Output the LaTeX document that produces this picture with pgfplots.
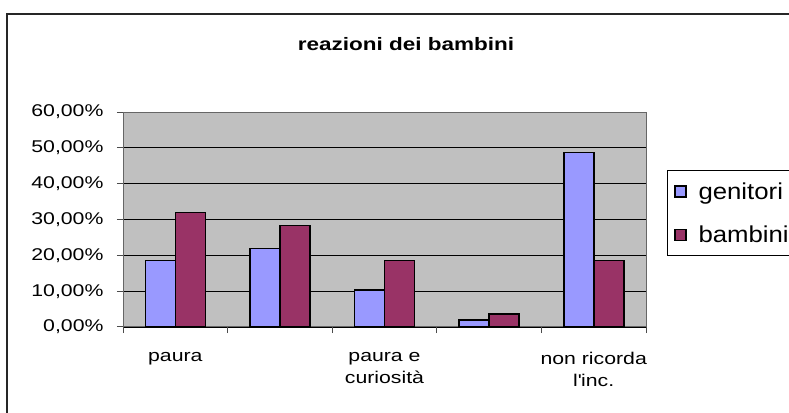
\documentclass[border=0pt]{standalone}
\usepackage{pgfplots}
\pgfplotsset{compat=1.18}
\usepackage{fontspec}
\setmainfont{Liberation Sans}[FakeStretch=1.25]
\newfontfamily\legfont{Liberation Sans}[FakeStretch=1.12]
\definecolor{gen}{HTML}{9999FF}
\definecolor{bam}{HTML}{993366}
\definecolor{plotbg}{HTML}{C0C0C0}
\begin{document}
\begin{tikzpicture}[x=1pt,y=1pt]
\useasboundingbox (0,0) rectangle (789,412);
\draw[line width=1.2pt, black!85] (7,398) rectangle (830,-30);
\node[anchor=base, font=\fontsize{18}{20}\selectfont\bfseries] at (406,361) {reazioni dei bambini};
\begin{axis}[
  at={(123pt,85pt)}, anchor=south west,
  width=523pt, height=215pt, scale only axis,
  ybar=0pt, bar width=30pt,
  xmin=0.5, xmax=5.5, ymin=0, ymax=60,
  axis background/.style={fill=plotbg},
  axis line style={draw=black!60, line width=1pt},
  tick align=outside, tick pos=left,
  major tick length=6pt,
  tick style={black!70, line width=1pt},
  xtick={0.5,1.5,2.5,3.5,4.5,5.5},
  xticklabels={},
  extra x ticks={1,2,3,4,5},
  extra x tick labels={paura,,{paura e\\curiosità},,{non ricorda\\l\textquotesingle inc.}},
  extra x tick style={major tick length=0pt, tick style={draw=none},
    xticklabel style={align=center, font=\fontsize{17}{22}\selectfont, anchor=north, yshift=-22pt}},
  ytick={0,10,20,30,40,50,60},
  yticklabels={{0,00\%},{10,00\%},{20,00\%},{30,00\%},{40,00\%},{50,00\%},{60,00\%}},
  yticklabel style={font=\fontsize{17}{20}\selectfont, anchor=east, xshift=-10pt},
  ymajorgrids, major grid style={black, line width=0.9pt},
  legend style={at={(axis description cs:1.040,0.730)}, anchor=north west,
    draw=black, line width=0.8pt, fill=white,
    font=\legfont\fontsize{23}{26}\selectfont,
    inner xsep=7pt, inner ysep=10pt, row sep=21pt,
    /tikz/every odd column/.append style={column sep=10pt}},
  legend cell align=left,
  legend image code/.code={\draw[#1, line width=1.2pt] (0pt,-5.5pt) rectangle (11pt,5.5pt);},
]
\addplot[fill=gen, draw=black, line width=1.6pt] coordinates {(1,18.6) (2,21.9) (3,10.3) (4,1.9) (5,48.7)};
\addplot[fill=bam, draw=black, line width=1.6pt] coordinates {(1,31.9) (2,28.3) (3,18.6) (4,3.7) (5,18.6)};
\legend{genitori,bambini}
\end{axis}
\end{tikzpicture}
\end{document}
